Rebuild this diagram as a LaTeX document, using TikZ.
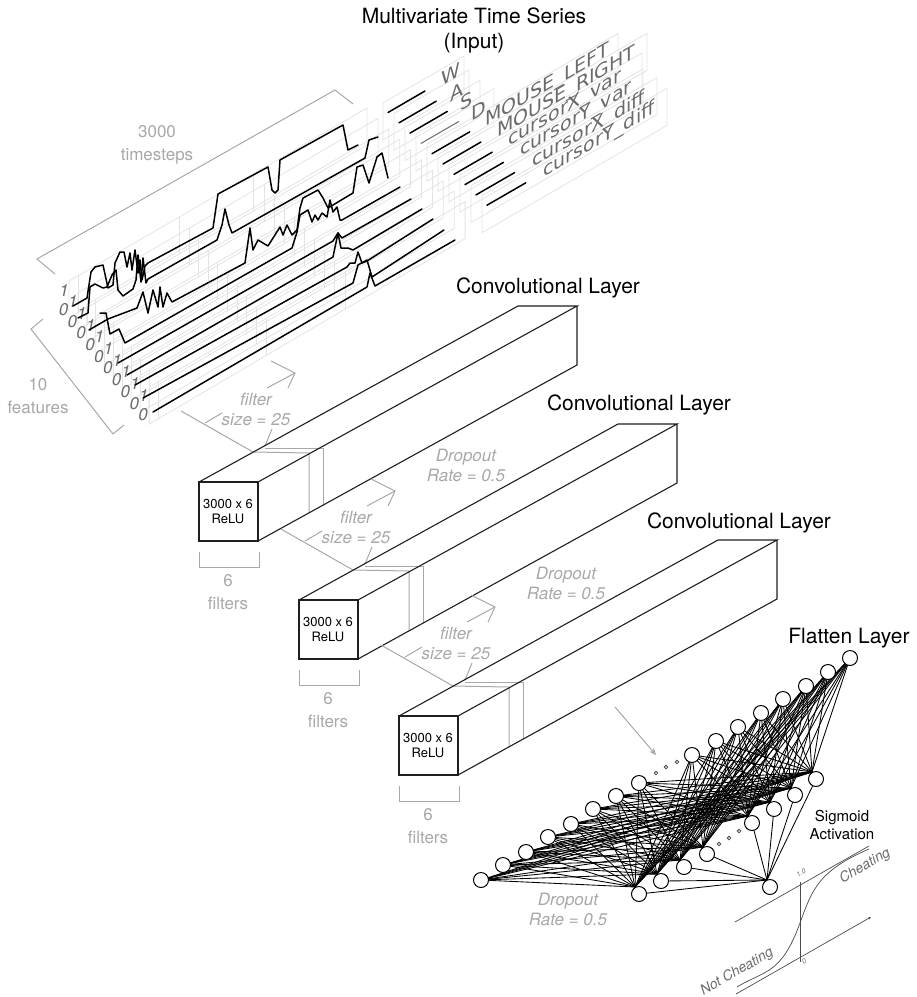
\documentclass[tikz,border=0pt]{standalone}
\usepackage{fontspec}
\setmainfont{TeX Gyre Heros}
\newfontfamily\dvfont{DejaVu Sans}
\usetikzlibrary{arrows.meta}
\definecolor{lbl}{gray}{0.66}
\definecolor{pane}{gray}{0.89}
\definecolor{frame}{gray}{0.12}
\definecolor{mid}{gray}{0.42}
\newcommand{\fs}[1]{\fontsize{#1}{#1}\selectfont}
\tikzset{
  title/.style={text=black,inner sep=0,align=center,font=\fs{21}},
  graylbl/.style={text=lbl,inner sep=0,align=center,font=\fs{17}\linespread{1.2}\selectfont},
  grayital/.style={text=lbl,inner sep=0,align=center,font=\fs{17}\itshape},
  bracket/.style={draw=lbl,line width=1pt},
  filterline/.style={draw=lbl,line width=1pt},
  layerline/.style={draw=frame,line width=1.1pt},
  series/.style={draw=black,line width=1.5pt,line join=round,line cap=round},
  panel/.style={draw=pane,line width=0.8pt},
  chan/.style={text=mid,inner sep=0,anchor=base west,transform shape,yslant=0.58,font=\dvfont\fs{19}},
  axisnum/.style={text=mid,inner sep=0,font=\fs{17}\itshape},
  neuron/.style={circle,draw=black,fill=white,line width=1pt,minimum size=15pt,inner sep=0},
  edge/.style={draw=black,line width=0.85pt},
  dot/.style={circle,draw=mid!70!black,line width=0.8pt,fill=white,minimum size=3.6pt,inner sep=0},
  plotline/.style={draw=frame!80!white,line width=0.7pt},
  plotlbl/.style={text=mid,inner sep=0,rotate=30,font=\fs{14}\itshape},
}
\begin{document}
\begin{tikzpicture}[x=1pt,y=-1pt]
\useasboundingbox (0,0) rectangle (917,997);
% titles
\node[title] (ttop) at (474,30) {Multivariate Time Series\\[4pt](Input)};
\node[title] (tc1) at (548,288) {Convolutional Layer};
\node[title] (tc2) at (639,405) {Convolutional Layer};
\node[title] (tc3) at (739,523) {Convolutional Layer};
\node[title] (tfl) at (849,638) {Flatten Layer};
% panels
\foreach \k/\rx in {0/464,1/469,2/480,3/494,4/618,5/647,6/642,7/643,8/657,9/667}{
  \pgfmathsetmacro{\lx}{383+11*\k}
  \pgfmathsetmacro{\ly}{103+10.3*\k}
  \pgfmathsetmacro{\ty}{\ly-0.58*(\rx-\lx)}
  \draw[panel] (\lx,\ly+37) -- (\lx,\ly) -- (\rx,\ty) -- (\rx,\ty+37) -- cycle;
  \pgfmathsetmacro{\ax}{69+8.9*\k}
  \pgfmathsetmacro{\ay}{281+11.8*\k}
  \pgfmathsetmacro{\bx}{367+10.9*\k}
  \pgfmathsetmacro{\by}{108+10.4*\k}
  \draw[panel] (\ax,\ay+37) -- (\ax,\ay) -- (\bx,\by) -- (\bx,\by+37) -- cycle;
  \foreach \f in {0.03,0.37,0.62}{
    \pgfmathsetmacro{\mx}{\ax+\f*(\bx-\ax)}
    \pgfmathsetmacro{\my}{\ay+\f*(\by-\ay)}
    \draw[panel] (\mx,\my) -- (\mx,\my+37);
  }
}
% axis digits
\foreach \k in {0,...,9}{
  \pgfmathsetmacro{\ax}{63.5+8.85*\k}
  \pgfmathsetmacro{\ay}{309.5+11.7*\k}
  \node[axisnum,text=mid] (zero\k) at (\ax,\ay) {0};
  \node[axisnum,text=mid] (one\k) at (\ax+0.5,\ay-19.5) {1};
}
% time series
\draw[series] (73,306)--(87,298)--(91,272)--(95,267)--(103,265)--(108,288)--(113,285)--(115,263)--(120,252)--(124,252)--(127,267)--(130,253)--(132,270)--(135,250)--(138,273)--(140,260)--(142,280)--(145,266)--(148,263)--(213,228)--(218,194)--(268,167)--(272,190)--(275,193)--(278,190)--(280,160)--(343,125)--(348,150)--(358,145);
\draw[series] (78,318)--(88,313)--(90,287)--(95,284)--(103,288)--(107,287)--(112,275)--(116,270)--(118,290)--(123,296)--(133,289)--(136,280)--(138,255)--(141,282)--(143,258)--(146,283)--(148,279)--(217,240)--(222,225)--(225,209)--(229,225)--(232,233)--(365,158)--(369,140)--(378,137);
\draw[series] (89,330)--(108,319)--(137,308)--(143,292)--(148,313)--(153,290)--(158,307)--(160,287)--(163,307)--(167,293)--(172,302)--(245,263)--(250,228)--(253,250)--(258,240)--(268,246)--(280,227)--(283,235)--(287,225)--(292,235)--(297,230)--(300,208)--(303,198)--(318,190)--(323,198)--(328,208)--(353,193)--(357,167)--(363,165)--(369,183)--(377,157)--(382,153)--(388,178);
\draw[series] (100,313)--(106,313)--(110,334)--(119,329)--(125,343)--(292,248)--(297,232)--(300,215)--(308,210)--(312,222)--(315,215)--(318,220)--(322,213)--(327,217)--(330,200)--(333,212)--(337,207)--(340,220)--(342,220)--(400,187);
\draw[series] (118,363)--(333,241)--(338,233)--(342,238)--(411,199);
\draw[series] (127,375)--(333,257)--(338,233)--(341,248)--(348,248)--(353,250)--(422,209);
\draw[series] (135,385)--(347,267)--(350,263)--(355,263)--(358,252)--(362,263)--(367,261)--(433,219);
\draw[series] (143,398)--(353,283)--(358,265)--(367,260)--(372,277)--(444,230);
\draw[series] (153,412)--(367,287)--(370,273)--(375,286)--(455,240);
% short channel strokes
\foreach \k in {0,...,9}{
  \pgfmathsetmacro{\sx}{388+11*\k}
  \pgfmathsetmacro{\sy}{112.5+10.3*\k}
  \pgfmathsetmacro{\ex}{425+11.2*\k}
  \pgfmathsetmacro{\ey}{91+10.2*\k}
  \ifnum\k=3
    \draw[series,draw=mid,line width=1pt] (\sx,\sy) -- (\ex,\ey);
  \else
    \draw[series] (\sx,\sy) -- (\ex,\ey);
  \fi
}
% channel names
\node[chan] (c0) at (441,87) {W};
\node[chan] (c1) at (450,103) {A};
\node[chan] (c2) at (460,112) {S};
\node[chan] (c3) at (471,122) {D};
\node[chan] (c4) at (485,127) {MOUSE\_LEFT};
\node[chan] (c5) at (497,138) {MOUSE\_RIGHT};
\node[chan] (c6) at (508,147) {cursorX\_var};
\node[chan] (c7) at (520,157) {cursorY\_var};
\node[chan] (c8) at (532,168) {cursorX\_diff};
\node[chan] (c9) at (543,178) {cursorY\_diff};
% dimension brackets
\draw[bracket] (55,274) -- (37,259) -- (335,90) -- (353,104);
\node[graylbl] (ts) at (157,145) {3000\\[2pt]timesteps};
\draw[bracket] (43,319) -- (31,329) -- (113,434) -- (124,425);
\node[graylbl] (fe) at (38,396) {10\\[2pt]features};
% conv layers
\foreach \n/\dx/\dy in {1/0/0,2/100/118,3/200/234}{
\begin{scope}[shift={(\dx,\dy)}]
  \draw[filterline] (181,411) -- (253,452) -- (309,453) -- (309,512);
  \draw[filterline] (265,448) -- (323,448) -- (323,504);
  \draw[filterline] (205,423) -- (222,413);
  \draw[filterline] (265,446) -- (272,429);
  \draw[filterline] (267,388) -- (295,373);
  \draw[filterline] (271,361) -- (295,373) -- (288,388);
  \node[grayital] (flt\n) at (256,409) {filter\\[3pt]size = 25};
  \draw[layerline,fill=white] (199,482) rectangle (258,541);
  \draw[layerline] (199,482) -- (518,306) -- (577,306) -- (258,482);
  \draw[layerline] (577,306) -- (577,365) -- (258,541);
  \node[inner sep=0,align=center,font=\fs{13}] (box\n) at (228,511.5) {3000 x 6\\[2pt]ReLU};
  \draw[bracket] (199,552) -- (199,567) -- (259,567) -- (259,552);
  \node[graylbl] (six\n) at (228,592) {6\\[2pt]filters};
\end{scope}
}
\node[grayital] (dr1) at (466,465) {Dropout\\[3pt]Rate = 0.5};
\node[grayital] (dr2) at (566,583) {Dropout\\[3pt]Rate = 0.5};
\node[grayital] (dr3) at (568,909) {Dropout\\[3pt]Rate = 0.5};
% arrow to flatten
\coordinate (fa) at (615,707);
\coordinate (fb) at (656,755);
\draw[draw=lbl,line width=1pt,-{Stealth[length=7pt,width=6pt]}] (fa) -- (fb);
% neurons
\foreach \i/\x/\y in {1/481/880,2/503/865,3/526/852,4/548/837,5/571/824,6/593/809,7/616/796,8/639/783,9/692/755,10/716/741,11/738/727,12/761/713,13/783/699,14/806/686,15/828/672,16/850/658}{
  \coordinate (tc\i) at (\x,\y);
}
\foreach \j/\x/\y in {1/639/894,2/661/881,3/684/867,4/707/854,5/752/823,6/774/809,7/795/795,8/816/779}{
  \coordinate (bc\j) at (\x,\y);
}
\coordinate (oc) at (770,887);
\foreach \i in {1,...,16}{
  \foreach \j in {1,...,8}{
    \draw[edge] (tc\i) -- ([shift={(-4,-7)}]bc\j);
  }
}
\foreach \j in {1,...,8}{
  \draw[edge] (bc\j) -- ([shift={(-3,-7)}]oc);
}
\foreach \i in {1,...,16}{ \node[neuron] (t\i) at (tc\i) {}; }
\foreach \j in {1,...,8}{ \node[neuron] (b\j) at (bc\j) {}; }
\node[neuron] (out) at (oc) {};
\node[dot] (d1) at (656,773) {};
\node[dot] (d2) at (666,767) {};
\node[dot] (d3) at (677,762) {};
\node[dot] (d4) at (719,844) {};
\node[dot] (d5) at (729,838) {};
\node[dot] (d6) at (739,831) {};
% sigmoid
\node[inner sep=0,align=center,font=\fs{15}] (sig) at (842,824.5) {Sigmoid\\[3pt]Activation};
\coordinate (p1) at (735,922); \coordinate (p2) at (869,846);
\coordinate (p3) at (736,994); \coordinate (p4) at (871,917);
\coordinate (p5) at (800,882); \coordinate (p6) at (800,962);
\draw[plotline] (p1) -- (p2);
\draw[plotline,-{Stealth[length=3pt,width=2.5pt]}] (p3) -- (p4);
\draw[plotline] (p5) -- (p6);
\coordinate (q0) at (737,987); \coordinate (q1) at (869,849);
\draw[plotline] (q0) .. controls (765,970) and (781,975) .. (800,923) .. controls (812,890) and (818,871) .. (q1);
\node[inner sep=0,text=mid,rotate=30,font=\fs{7}\itshape] (v1) at (801,873) {1.0};
\node[inner sep=0,text=mid,rotate=30,font=\fs{7}\itshape] (v0) at (804,961) {0};
\node[plotlbl] (nc) at (737,972) {Not Cheating};
\node[plotlbl] (ch) at (865,866) {Cheating};
\end{tikzpicture}
\end{document}
